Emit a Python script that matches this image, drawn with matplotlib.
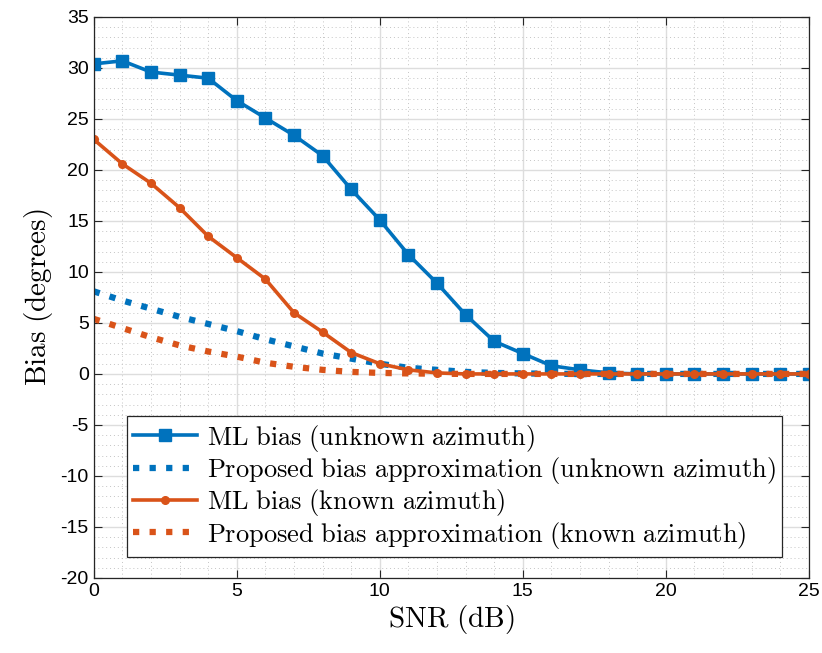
import matplotlib
matplotlib.use("Agg")
import matplotlib.pyplot as plt
from matplotlib.ticker import MultipleLocator

plt.rcParams['mathtext.fontset'] = 'cm'
plt.rcParams['axes.unicode_minus'] = False

snr = list(range(26))

ml_unknown = [30.4, 30.7, 29.6, 29.3, 29.0, 26.8, 25.1, 23.4, 21.4, 18.1,
              15.1, 11.7, 8.9, 5.8, 3.2, 2.0, 0.8, 0.4, 0.1, 0.0,
              0.0, 0.0, 0.0, 0.0, 0.0, 0.0]
approx_unknown = [8.1, 7.2, 6.4, 5.6, 4.9, 4.2, 3.4, 2.7, 2.0, 1.5,
                  1.0, 0.6, 0.4, 0.2, 0.1, 0.05, 0.02, 0.0, 0.0, 0.0,
                  0.0, 0.0, 0.0, 0.0, 0.0, 0.0]
ml_known = [23.0, 20.6, 18.7, 16.3, 13.5, 11.4, 9.3, 6.0, 4.1, 2.1,
            1.0, 0.4, 0.1, 0.0, 0.0, 0.0, 0.0, 0.0, 0.0, 0.0,
            0.0, 0.0, 0.0, 0.0, 0.0, 0.0]
approx_known = [5.4, 4.5, 3.6, 2.8, 2.2, 1.7, 1.1, 0.7, 0.4, 0.2,
                0.1, 0.05, 0.02, 0.0, 0.0, 0.0, 0.0, 0.0, 0.0, 0.0,
                0.0, 0.0, 0.0, 0.0, 0.0, 0.0]

labels = [r'$\mathrm{ML\ bias\ (unknown\ azimuth)}$',
          r'$\mathrm{Proposed\ bias\ approximation\ (unknown\ azimuth)}$',
          r'$\mathrm{ML\ bias\ (known\ azimuth)}$',
          r'$\mathrm{Proposed\ bias\ approximation\ (known\ azimuth)}$']

blue = '#0072BD'
orange = '#D95319'

fig = plt.figure(figsize=(8.22, 6.53), dpi=100)
ax = fig.add_axes([0.114, 0.115, 0.870, 0.859])

ax.plot(snr, ml_unknown, '-s', color=blue, lw=2.6, ms=8, label=labels[0])
ax.plot(snr, approx_unknown, ':', color=blue, lw=4.5, label=labels[1])
ax.plot(snr, ml_known, '-o', color=orange, lw=2.6, ms=5.5, label=labels[2])
ax.plot(snr, approx_known, ':', color=orange, lw=4.5, label=labels[3])

ax.set_xlim(0, 25)
ax.set_ylim(-20, 35)
ax.xaxis.set_major_locator(MultipleLocator(5))
ax.yaxis.set_major_locator(MultipleLocator(5))
ax.xaxis.set_minor_locator(MultipleLocator(1))
ax.yaxis.set_minor_locator(MultipleLocator(1))
ax.grid(which='major', color='#dddddd', lw=1.0)
ax.grid(which='minor', color='#c4c4c4', lw=0.7, ls=(0, (1, 3)))
ax.set_axisbelow(True)
ax.tick_params(which='both', direction='in', top=True, right=True)
ax.tick_params(which='minor', length=0)
ax.tick_params(which='major', length=6, labelsize=14, color='#262626')
for lab in ax.get_xticklabels() + ax.get_yticklabels():
    lab.set_family('Liberation Sans')
for s in ax.spines.values():
    s.set_color('#262626')
    s.set_linewidth(0.9)

ax.set_xlabel(r'$\mathrm{SNR\ (dB)}$', fontsize=21, labelpad=2)
ax.set_ylabel(r'$\mathrm{Bias\ (degrees)}$', fontsize=21, labelpad=4)

leg = ax.legend(loc='lower left', bbox_to_anchor=(0.046, 0.037), fontsize=19,
                handlelength=2.4, borderpad=0.25, labelspacing=0.05,
                handletextpad=0.4, fancybox=False, framealpha=1,
                edgecolor='#262626', borderaxespad=0)
leg.get_frame().set_linewidth(0.9)

fig.savefig('out.png', dpi=100)
